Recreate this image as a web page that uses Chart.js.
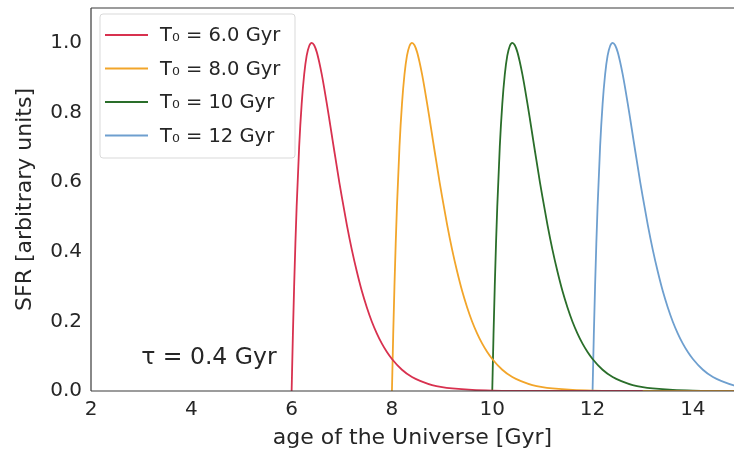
<!DOCTYPE html>
<html>
<head>
<meta charset="utf-8">
<script src="https://cdn.jsdelivr.net/npm/chart.js@4.4.1/dist/chart.umd.min.js"></script>
<style>
  html, body { margin: 0; padding: 0; background: #ffffff; }
  #wrap { width: 734px; height: 453px; position: relative; }
</style>
</head>
<body>
<div id="wrap"><canvas id="c" width="734" height="453"></canvas></div>
<script>
// ---- data ----
const seriesLabels = ['T\u2080 = 6.0 Gyr', 'T\u2080 = 8.0 Gyr', 'T\u2080 = 10 Gyr', 'T\u2080 = 12 Gyr'];
const onsetTimes = [6.0, 8.0, 10.0, 12.0];           // Gyr
const delayGyr = [0, 0.025, 0.05, 0.075, 0.1, 0.15, 0.2, 0.25, 0.3, 0.35, 0.4, 0.45, 0.5, 0.55, 0.6, 0.65,
                  0.7, 0.75, 0.8, 0.85, 0.9, 0.95, 1.0, 1.1, 1.2, 1.3, 1.4, 1.5, 1.6, 1.7, 1.8, 1.9, 2.0,
                  2.2, 2.4, 2.6, 2.8, 3.0, 3.2, 3.6, 4.0, 5.0, 7.0];
const sfrT6  = [0, 0.160, 0.300, 0.423, 0.529, 0.701, 0.824, 0.909, 0.963, 0.991, 1.000, 0.993, 0.974, 0.945, 0.910, 0.870,
                0.827, 0.782, 0.736, 0.690, 0.645, 0.600, 0.558, 0.478, 0.406, 0.343, 0.287, 0.240, 0.199, 0.165, 0.136, 0.112, 0.092,
                0.061, 0.040, 0.027, 0.017, 0.011, 0.0073, 0.0030, 0.0012, 0.0001, 0];
const sfrT8  = [0, 0.160, 0.300, 0.423, 0.529, 0.701, 0.824, 0.909, 0.963, 0.991, 1.000, 0.993, 0.974, 0.945, 0.910, 0.870,
                0.827, 0.782, 0.736, 0.690, 0.645, 0.600, 0.558, 0.478, 0.406, 0.343, 0.287, 0.240, 0.199, 0.165, 0.136, 0.112, 0.092,
                0.061, 0.040, 0.027, 0.017, 0.011, 0.0073, 0.0030, 0.0012, 0.0001, 0];
const sfrT10 = [0, 0.160, 0.300, 0.423, 0.529, 0.701, 0.824, 0.909, 0.963, 0.991, 1.000, 0.993, 0.974, 0.945, 0.910, 0.870,
                0.827, 0.782, 0.736, 0.690, 0.645, 0.600, 0.558, 0.478, 0.406, 0.343, 0.287, 0.240, 0.199, 0.165, 0.136, 0.112, 0.092,
                0.061, 0.040, 0.027, 0.017, 0.011, 0.0073, 0.0030, 0.0012, 0.0001, 0];
const sfrT12 = [0, 0.160, 0.300, 0.423, 0.529, 0.701, 0.824, 0.909, 0.963, 0.991, 1.000, 0.993, 0.974, 0.945, 0.910, 0.870,
                0.827, 0.782, 0.736, 0.690, 0.645, 0.600, 0.558, 0.478, 0.406, 0.343, 0.287, 0.240, 0.199, 0.165, 0.136, 0.112, 0.092,
                0.061, 0.040, 0.027, 0.017, 0.011, 0.0073, 0.0030, 0.0012, 0.0001, 0];
const xTicks = [2, 4, 6, 8, 10, 12, 14];
const yTicks = [0.0, 0.2, 0.4, 0.6, 0.8, 1.0];
const annotationText = '\u03c4 = 0.4 Gyr';
const annotationPos = { x: 3.0, y: 0.1 };

const seriesValues = [sfrT6, sfrT8, sfrT10, sfrT12];
const colors = ['#d8314f', '#f2a52a', '#2a6e2a', '#6e9fcf'];

const datasets = seriesValues.map((vals, i) => ({
  label: seriesLabels[i],
  data: delayGyr.map((d, k) => ({ x: onsetTimes[i] + d, y: vals[k] })),
  borderColor: colors[i],
  backgroundColor: colors[i],
  borderWidth: 1.8,
  pointRadius: 0,
  fill: false,
  cubicInterpolationMode: 'monotone'
}));

const FONT = 'DejaVu Sans';
const TXT = '#262626';

const legendPlugin = {
  id: 'mplLegend',
  afterDatasetsDraw(chart) {
    const ctx = chart.ctx;
    const x0 = 100, y0 = 14, w = 195, h = 144;
    ctx.save();
    ctx.beginPath();
    const r = 3;
    ctx.moveTo(x0 + r, y0);
    ctx.arcTo(x0 + w, y0, x0 + w, y0 + h, r);
    ctx.arcTo(x0 + w, y0 + h, x0, y0 + h, r);
    ctx.arcTo(x0, y0 + h, x0, y0, r);
    ctx.arcTo(x0, y0, x0 + w, y0, r);
    ctx.closePath();
    ctx.fillStyle = 'rgba(255,255,255,0.8)';
    ctx.fill();
    ctx.strokeStyle = '#d9d9d9';
    ctx.lineWidth = 1;
    ctx.stroke();
    chart.data.datasets.forEach((ds, i) => {
      const yy = 35 + i * 33.5;
      ctx.beginPath();
      ctx.moveTo(105, yy);
      ctx.lineTo(148, yy);
      ctx.strokeStyle = ds.borderColor;
      ctx.lineWidth = 2;
      ctx.stroke();
      ctx.fillStyle = TXT;
      ctx.font = '19.5px "' + FONT + '"';
      ctx.textBaseline = 'middle';
      ctx.textAlign = 'left';
      ctx.fillText(ds.label, 160, yy + 1);
    });
    // annotation
    const xs = chart.scales.x, ys = chart.scales.y;
    ctx.font = '23.5px "' + FONT + '"';
    ctx.fillStyle = TXT;
    ctx.textBaseline = 'alphabetic';
    ctx.fillText(annotationText, xs.getPixelForValue(annotationPos.x), ys.getPixelForValue(annotationPos.y) + 8);
    ctx.restore();
  }
};

const frame = {
  id: 'frame',
  afterDraw(chart) {
    const { left, right, top, bottom } = chart.chartArea;
    const ctx = chart.ctx;
    ctx.save();
    ctx.strokeStyle = '#3a3a3a';
    ctx.lineWidth = 1.2;
    ctx.beginPath();
    ctx.moveTo(left, top); ctx.lineTo(right + 2, top);
    ctx.moveTo(left, top); ctx.lineTo(left, bottom);
    ctx.moveTo(left, bottom); ctx.lineTo(right + 2, bottom);
    ctx.stroke();
    ctx.restore();
  }
};

new Chart(document.getElementById('c'), {
  type: 'line',
  data: { datasets },
  options: {
    responsive: false,
    animation: false,
    devicePixelRatio: 1,
    layout: { padding: { top: 8, right: 0, left: 0, bottom: 0 } },
    plugins: { legend: { display: false }, tooltip: { enabled: false } },
    scales: {
      x: {
        type: 'linear',
        min: 2, max: 14.82,
        grid: { display: false, drawTicks: true, tickLength: 5, tickColor: '#3a3a3a', drawOnChartArea: false },
        border: { display: false },
        afterBuildTicks: (s) => { s.ticks = xTicks.map(v => ({ value: v })); },
        ticks: { color: TXT, font: { family: FONT, size: 20 }, padding: 2, maxRotation: 0, autoSkip: false,
                 callback: (v) => String(v) },
        title: { display: true, text: 'age of the Universe [Gyr]', color: TXT, font: { family: FONT, size: 22 }, padding: { top: 0, bottom: 2 } },
        afterFit: (s) => { s.height = 62; s.paddingLeft = 0; s.paddingRight = 0; }
      },
      y: {
        type: 'linear',
        min: 0, max: 1.1,
        grid: { display: false, drawTicks: true, tickLength: 5, tickColor: '#3a3a3a', drawOnChartArea: false },
        border: { display: false },
        afterBuildTicks: (s) => { s.ticks = yTicks.map(v => ({ value: v })); },
        ticks: { color: TXT, font: { family: FONT, size: 20 }, padding: 4, autoSkip: false,
                 callback: (v) => Number(v).toFixed(1) },
        title: { display: true, text: 'SFR [arbitrary units]', color: TXT, font: { family: FONT, size: 22 }, padding: { top: 12, bottom: 0 } },
        afterFit: (s) => { s.width = 91; s.paddingTop = 0; s.paddingBottom = 0; }
      }
    }
  },
  plugins: [legendPlugin, frame]
});
</script>
</body>
</html>
